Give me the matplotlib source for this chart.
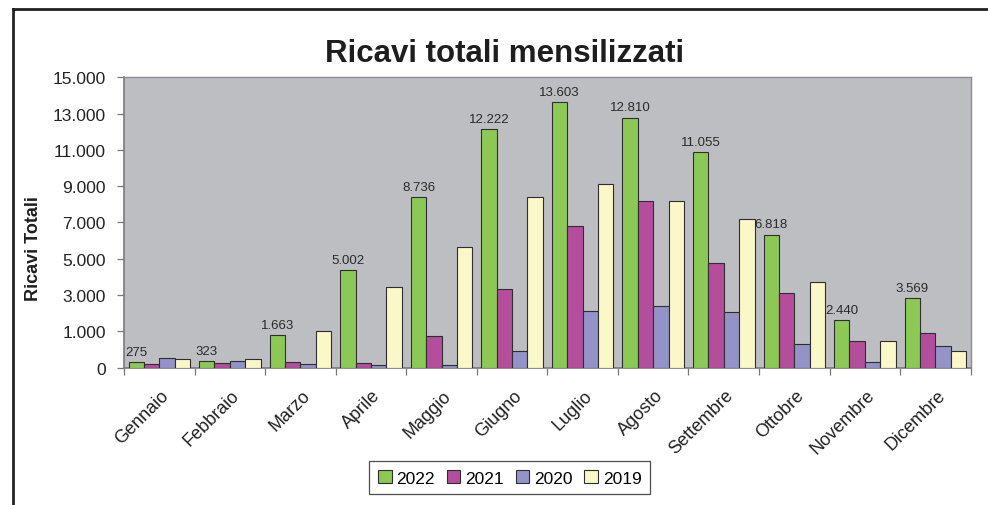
import matplotlib.pyplot as plt
import numpy as np
from matplotlib.lines import Line2D
from matplotlib.transforms import ScaledTranslation


# Monthly total revenue, four years side by side
#--------------------------------------------------------------------------------

months = [
    "Gennaio", "Febbraio", "Marzo", "Aprile", "Maggio", "Giugno",
    "Luglio", "Agosto", "Settembre", "Ottobre", "Novembre", "Dicembre"
]

years = ["2022", "2021", "2020", "2019"]

ricavi_2022 = [275, 323, 1663, 5002, 8736, 12222, 13603, 12810, 11055, 6818, 2440, 3569]
ricavi_2021 = [165, 215, 265, 215, 1600, 4010, 7250, 8535, 5355, 3820, 1360, 1750]
ricavi_2020 = [470, 350, 180, 130, 130, 830, 2880, 3170, 2830, 1220, 265, 1085]
ricavi_2019 = [420, 435, 1855, 4125, 6160, 8720, 9420, 8535, 7595, 4365, 1360, 860]

y_tick_labels = ["0", "1.000", "3.000", "5.000", "7.000", "9.000", "11.000", "13.000", "15.000"]

colors = ["#8cc855", "#b54d9d", "#9393c8", "#faf7c8"]

plt.rcParams["font.family"] = ["Liberation Sans", "DejaVu Sans"]


def fmt_it(value):

    return f"{value:,}".replace(",", ".")


fig = plt.figure(
    figsize=(9.88, 5.06),
    dpi=100
)

ax = fig.add_axes([0.1255, 0.2717, 0.857, 0.5736])

ax.set_facecolor("#bdbec2")

# ----------------------------------------
# Bars
# ----------------------------------------

series = [ricavi_2022, ricavi_2021, ricavi_2020, ricavi_2019]

x = np.arange(len(months))

bar_width = 0.218

for i, (values, year, color) in enumerate(zip(series, years, colors)):

    offset = (i - 1.5) * bar_width

    bars = ax.bar(
        x + offset,
        values,
        width=bar_width,
        color=color,
        edgecolor="#2e2e2e",
        linewidth=0.8,
        label=year,
        zorder=3
    )

    # only the 2022 series carries value labels
    if i == 0:

        for bar, value in zip(bars, values):

            ax.annotate(
                fmt_it(value),
                (bar.get_x() + bar.get_width() / 2, bar.get_height()),
                xytext=(0, 3),
                textcoords="offset points",
                ha="center",
                va="bottom",
                fontsize=9.5,
                color="#2a2a2a",
                zorder=4
            )

# ----------------------------------------
# Axes
# ----------------------------------------

y_top = 14880

ax.set_ylim(0, y_top)

ax.set_xlim(-0.5, len(months) - 0.5)

ax.set_yticks(np.linspace(0, y_top, len(y_tick_labels)))

ax.set_yticklabels(y_tick_labels, fontsize=12.5, color="#222222")

ax.tick_params(axis="y", length=5, width=0.9, color="#777777", pad=8)

ax.set_xticks(x)

ax.set_xticklabels(
    months,
    rotation=45,
    ha="right",
    va="center",
    rotation_mode="anchor",
    fontsize=13,
    color="#222222"
)

ax.tick_params(axis="x", which="major", length=0, pad=18)

ax.set_xticks(np.arange(len(months) + 1) - 0.5, minor=True)

ax.tick_params(axis="x", which="minor", length=5, width=0.9, color="#777777")

# shift month labels a little to the right, as in the original
shift = ScaledTranslation(7 / 100, 0, fig.dpi_scale_trans)

for label in ax.get_xticklabels():

    label.set_transform(label.get_transform() + shift)

for side in ["left", "bottom"]:

    ax.spines[side].set_color("#7a7a7a")
    ax.spines[side].set_linewidth(1.2)

for side in ["top", "right"]:

    ax.spines[side].set_color("#8c8c8c")
    ax.spines[side].set_linewidth(1.0)

# ----------------------------------------
# Titles
# ----------------------------------------

fig.text(
    0.511,
    0.878,
    "Ricavi totali mensilizzati",
    ha="center",
    va="baseline",
    fontsize=22.5,
    fontweight="bold",
    color="#1e1e1e"
)

fig.text(
    0.0344,
    0.509,
    "Ricavi Totali",
    ha="center",
    va="center",
    rotation=90,
    fontsize=13,
    fontweight="bold",
    color="#1e1e1e"
)

# ----------------------------------------
# Legend
# ----------------------------------------

legend = fig.legend(
    loc="center",
    bbox_to_anchor=(0.5157, 0.0534),
    ncol=4,
    frameon=True,
    fancybox=False,
    edgecolor="#222222",
    fontsize=12.5,
    handlelength=0.8,
    handleheight=0.8,
    handletextpad=0.25,
    columnspacing=0.7,
    borderpad=0.5
)

legend.get_frame().set_linewidth(0.9)

# ----------------------------------------
# Outer frame (top and left edges only)
# ----------------------------------------

fig.add_artist(Line2D([13.3 / 988, 1.0], [1 - 9.6 / 506, 1 - 9.6 / 506], color="#222222", linewidth=2.0))

fig.add_artist(Line2D([13.3 / 988, 13.3 / 988], [0.0, 1 - 9.6 / 506], color="#222222", linewidth=2.0))

plt.savefig(
    "out.png",
    dpi=100
)

plt.close()
